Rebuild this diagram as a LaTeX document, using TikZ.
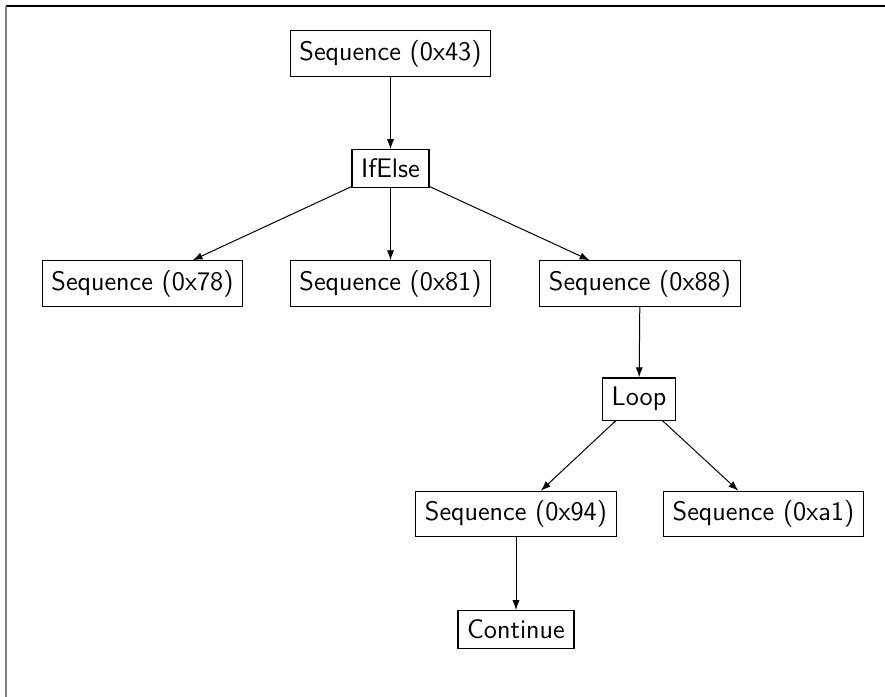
\documentclass[tikz,border=0pt]{standalone}
\usetikzlibrary{arrows.meta}
\begin{document}
\begin{tikzpicture}[x=0.5pt,y=-0.5pt,
  treenode/.style={draw, line width=0.6pt, inner xsep=4.6pt, inner ysep=4.6pt,
    font=\sffamily\fontsize{13.4}{15}\selectfont},
  link/.style={line width=0.5pt, -{Latex[length=5pt,width=3.6pt]}}]
  \useasboundingbox (0,0) rectangle (885,697);
  % frame edges
  \draw[line width=0.6pt] (6,6) -- (885,6);
  \draw[line width=0.8pt, gray] (6,6) -- (6,697);
  % nodes
  \node[treenode] (s43) at (390.5,53.5) {Sequence (0x43)};
  \node[treenode] (ifelse) at (390.5,168.5) {IfElse};
  \node[treenode] (s78) at (142.5,283.5) {Sequence (0x78)};
  \node[treenode] (s81) at (390.5,283.5) {Sequence (0x81)};
  \node[treenode] (s88) at (640,283.5) {Sequence (0x88)};
  \node[treenode] (loop) at (639,399) {Loop};
  \node[treenode] (s94) at (516,514) {Sequence (0x94)};
  \node[treenode] (sa1) at (763.5,514) {Sequence (0xa1)};
  \node[treenode] (cont) at (516,629.5) {Continue};
  % connectors
  \draw[link] (s43) -- (ifelse);
  \draw[link] (ifelse) -- (s78);
  \draw[link] (ifelse) -- (s81);
  \draw[link] (ifelse) -- (s88);
  \draw[link] (s88) -- (loop);
  \draw[link] (loop) -- (s94);
  \draw[link] (loop) -- (sa1);
  \draw[link] (s94) -- (cont);
\end{tikzpicture}
\end{document}
